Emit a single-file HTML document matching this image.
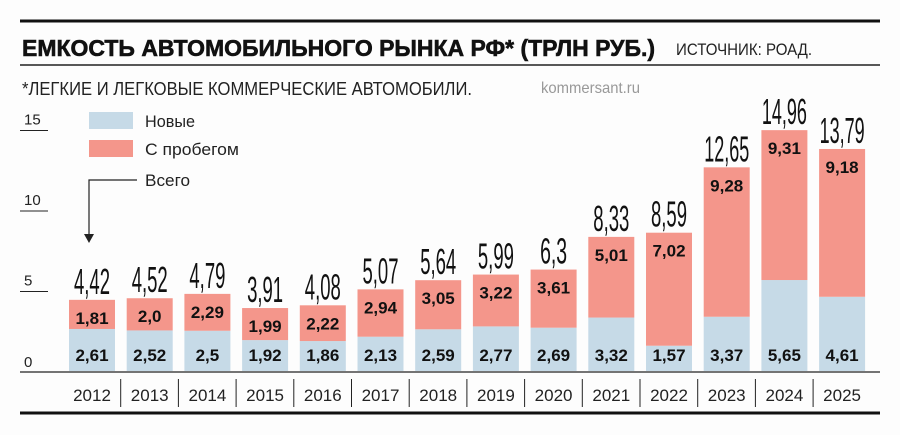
<!DOCTYPE html>
<html><head><meta charset="utf-8"><style>
html,body{margin:0;padding:0;background:#fff;}
svg{display:block;font-family:"Liberation Sans",sans-serif;}
</style></head><body>
<svg id="chart" width="900" height="435" viewBox="0 0 900 435">
<rect width="900" height="435" fill="#fdfdfd"/>
<line x1="20" y1="21" x2="880" y2="21" stroke="#111" stroke-width="3"/>
<text x="22" y="56" font-size="23" font-weight="bold" fill="#111" stroke="#111" stroke-width="0.6" textLength="633" lengthAdjust="spacingAndGlyphs">ЕМКОСТЬ АВТОМОБИЛЬНОГО РЫНКА РФ* (ТРЛН РУБ.)</text>
<text x="676" y="55" font-size="17" fill="#222" textLength="136" lengthAdjust="spacingAndGlyphs">ИСТОЧНИК: РОАД.</text>
<line x1="20" y1="65" x2="880" y2="65" stroke="#222" stroke-width="1.5"/>
<text x="22" y="95" font-size="18" fill="#222" textLength="450" lengthAdjust="spacingAndGlyphs">*ЛЕГКИЕ И ЛЕГКОВЫЕ КОММЕРЧЕСКИЕ АВТОМОБИЛИ.</text>
<text x="541" y="93" font-size="16" fill="#999" textLength="99" lengthAdjust="spacingAndGlyphs">kommersant.ru</text>
<rect x="89" y="112" width="44" height="17" fill="#c6dae7"/>
<text x="145" y="127" font-size="17" fill="#222" textLength="50" lengthAdjust="spacingAndGlyphs">Новые</text>
<rect x="89" y="140" width="44" height="17" fill="#f4968b"/>
<text x="145" y="155" font-size="17" fill="#222" textLength="94" lengthAdjust="spacingAndGlyphs">С пробегом</text>
<path d="M137 180 H89 V238" fill="none" stroke="#222" stroke-width="1.2"/>
<path d="M84 234 L89 243 L94 234 Z" fill="#222"/>
<text x="145" y="186" font-size="17" fill="#222" textLength="45" lengthAdjust="spacingAndGlyphs">Всего</text>
<g id="axis"></g>
<g id="bars"></g>
<line x1="20" y1="372" x2="880" y2="372" stroke="#222" stroke-width="1.3"/>
<line x1="20" y1="413" x2="880" y2="413" stroke="#111" stroke-width="3"/>
</svg>
<script>
const years = ["2012","2013","2014","2015","2016","2017","2018","2019","2020","2021","2022","2023","2024","2025"];
const newCars = [2.61,2.52,2.5,1.92,1.86,2.13,2.59,2.77,2.69,3.32,1.57,3.37,5.65,4.61];
const usedCars = [1.81,2.0,2.29,1.99,2.22,2.94,3.05,3.22,3.61,5.01,7.02,9.28,9.31,9.18];
const totals = [4.42,4.52,4.79,3.91,4.08,5.07,5.64,5.99,6.3,8.33,8.59,12.65,14.96,13.79];
const yTicks = [0,5,10,15];
const NS="http://www.w3.org/2000/svg";
const y0=371, k=16.1, x0=69, pitch=57.7, bw=46;
const y=v=>y0-v*k;
const x=i=>x0+i*pitch;
const fmt=v=>(Number.isInteger(v)?v.toFixed(1):String(v)).replace('.',',');
function mk(tag,attrs,parent,txt){const e=document.createElementNS(NS,tag);for(const a in attrs)e.setAttribute(a,attrs[a]);if(txt!==undefined)e.textContent=txt;parent.appendChild(e);return e;}
const ax=document.getElementById('axis'), g=document.getElementById('bars');
yTicks.forEach(t=>{
  const tx=mk('text',{x:24,y:t===0?y(t)-4:y(t)-5,'font-size':15,fill:'#222'},ax,String(t));
  
  
  if(t>0){const l=mk('line',{x1:20,x2:48,y1:y(t)+1,y2:y(t)+1,stroke:'#222','stroke-width':1},ax);
  
  }
});
years.forEach((yr,i)=>{
  const bx=x(i), cx=bx+bw/2;
  const b1=mk('rect',{x:bx,y:y(newCars[i]),width:bw,height:newCars[i]*k,fill:'#c6dae7'},g);
  
  
  const tot=newCars[i]+usedCars[i];
  const b2=mk('rect',{x:bx,y:y(tot),width:bw,height:usedCars[i]*k,fill:'#f4968b'},g);
  
  
  const l1=mk('text',{x:cx,y:y0-10,'font-size':17,'font-weight':'bold','text-anchor':'middle',fill:'#111'},g,fmt(newCars[i]));
  
  
  const l2=mk('text',{x:cx,y:y(tot)+24,'font-size':17,'font-weight':'bold','text-anchor':'middle',fill:'#111'},g,fmt(usedCars[i]));
  
  
  const s=String(totals[i]).replace('.',',');
  const l3=mk('text',{x:cx,y:y(tot)-6,'font-size':36,'text-anchor':'middle',fill:'#111',textLength:s.length*9,lengthAdjust:'spacingAndGlyphs'},g,s);
  
  
  const l4=mk('text',{x:cx,y:401,'font-size':17,'text-anchor':'middle',fill:'#222'},g,yr);
  
  
  if(i>0){const sp=mk('line',{x1:bx-6,x2:bx-6,y1:379,y2:407,stroke:'#222','stroke-width':1},g);
  
  }
});
</script>
</body></html>
